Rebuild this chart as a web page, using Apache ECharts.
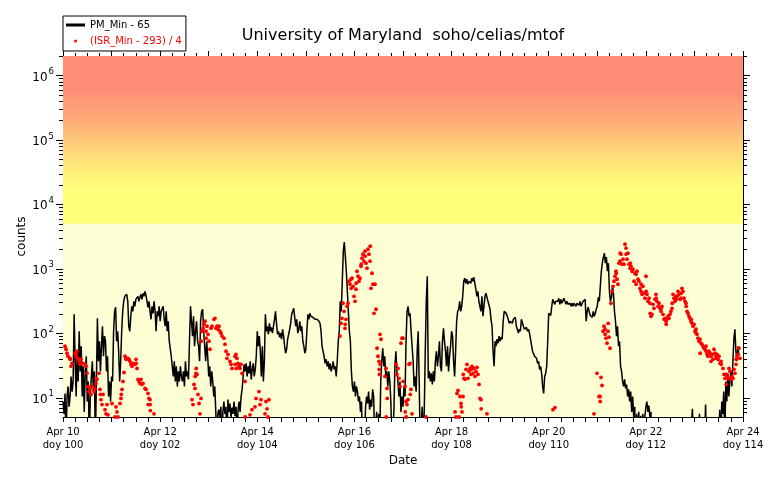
<!DOCTYPE html>
<html><head><meta charset="utf-8">
<script src="https://cdn.jsdelivr.net/npm/echarts@6.0.0/dist/echarts.min.js"></script>
<style>html,body{margin:0;padding:0;background:#fff}#c{width:776px;height:480px}</style>
</head><body><div id="c"></div>
<script>
// ---- data ----
const titleText = 'University of Maryland  soho/celias/mtof';
const pmName = 'PM_Min - 65';
const isrName = '(ISR_Min - 293) / 4';
const pmStartDoy = 100;          // Apr 10
const pmStepDays = 1 / 48;       // 30-minute cadence
const pmValues = [
8.7,5.6,11.6,2,10.4,14.9,7.2,10.4,21.3,12.4,17.8,196,36.6,10.4,52.4,17.8,107,25.5,62.7,10.4,30.6,6,25.5,43.8,8.7,17.8,2,10.4,21.3,36.6,12.4,25.5,2,17.8,170,36.6,75,25.5,62.7,128,43.8,90,
75,25.5,43.8,10.4,17.8,8.7,21.3,17.8,107,218,252,75,107,52.4,17.8,36.6,107,218,312,373,387,401,312,128,107,183,261,218,312,261,335,312,373,312,360,401,335,416,373,446,387,312,252,312,218,164,261,203,312,218,107,218,183,261,153,218,203,261,164,128,218,107,153,75,75,43.8,30.6,21.3,36.6,17.8,30.6,14.9,25.5,17.8,30.6,21.3,17.8,25.5,14.9,36.6,21.3,25.5,19.2,
75,261,153,90,183,62.7,107,153,75,62.7,36.6,153,218,235,107,62.7,36.6,75,43.8,21.3,30.6,14.9,25.5,17.8,10.4,14.9,6,2,5.6,6.5,5,7.2,2,6,8.7,5.6,7.2,2,9.3,6,8.1,5,7,5.6,8.7,5.2,7.2,2,6.5,8.7,6,10.4,13.4,21.3,32.8,25.5,34,21.3,30.6,23.8,36.6,19.2,27.4,34,21.3,27.4,43.8,107,62.7,90,52.4,21.3,62.7,17.8,36.6,196,107,128,96,142,107,123,100,
107,164,218,142,96,107,86.5,100,80.5,115,90,62.7,48.8,56.3,80.5,96,115,142,196,218,243,176,128,164,100,115,153,107,128,75,62.7,48.8,56.3,107,196,164,203,183,196,176,189,164,176,164,170,153,142,107,62.7,52.4,43.8,34,39.3,30.6,36.6,27.4,34,25.5,29.5,36.6,27.4,30.6,21.3,36.6,75,107,312,218,639,1872,2585,1565,914,446,218,107,75,25.5,14.9,12.4,17.8,10.4,14.9,
12.4,8.7,10.4,6,8.7,2,2,2,7.2,10.4,8.1,12.4,6.5,9.3,7.2,13.4,10.4,2,2,6,2,5.6,2,17.8,36.6,58.3,30.6,43.8,21.3,25.5,14.9,25.5,17.8,8.7,2,2,6,30.6,52.4,25.5,17.8,10.4,17.8,6,10.4,7.2,14.9,10.4,75,218,261,183,203,107,62.7,36.6,14.9,21.3,12.4,52.4,107,17.8,2,2,7.2,2,6,52.4,312,764,19.9,25.5,17.8,23.8,16,25.5,17.8,36.6,52.4,30.6,43.8,75,30.6,
25.5,75,119,75,52.4,30.6,62.7,25.5,43.8,62.7,107,90,36.6,21.3,52.4,153,218,235,312,218,261,373,639,711,595,686,574,639,662,595,711,639,737,595,480,373,446,312,335,218,373,183,261,373,416,360,312,335,235,164,128,52.4,30.6,75,62.7,80.5,69.8,90,75,86.5,80.5,153,218,203,203,183,164,142,153,164,142,164,153,176,128,115,100,115,107,164,164,128,115,
115,123,107,115,100,80.5,75,52.4,48.8,43.8,47,40.7,34,36.6,27.4,30.6,23.8,14.9,11.6,21.3,23.8,30.6,75,203,218,189,261,335,312,280,312,291,312,348,280,335,291,312,348,312,280,312,280,261,291,261,291,261,291,312,261,291,312,271,312,261,271,312,291,335,153,218,252,218,189,203,176,218,183,203,235,261,360,312,534,914,1218,1510,1743,1218,1510,914,1218,
446,312,360,534,416,218,153,90,128,62.7,75,30.6,25.5,17.8,14.9,19.2,13.9,16,10.4,13.4,8.7,12.4,6,10.4,5,7.2,2,5.6,2,6,2,5.2,2,5.6,2,5,7.2,8.7,6,7.5,5,6,2,
2,2,2,2,2,2,2,2,2,2,2,2,2,2,2,2,2,2,2,2,2,2,2,2,2,2,2,2,2,2,2,2,2,2,2,2,2,2,2,
6.7,2,2,2,2,2,2,5.6,2,2,2,2,2,7.8,2,2,2,2,2,2,2,2,2,2,2,2,2,6.5,2,8.7,5.6,12.4,2,17.8,8.7,23.8,10.4,17.8,25.5,14.9,36.6,83.5,115,52.4,36.6,62.7,43.8
];
const isrPoints = [
[100.041,62.7],[100.062,56.3],[100.082,48.8],[100.103,43.8],[100.144,40.7],[100.150,39.3],[100.165,30.6],[100.185,34],[100.247,48.8],[100.268,47],
[100.272,43.8],[100.288,52.4],[100.309,40.7],[100.329,36.6],[100.350,32.8],[100.371,39.3],[100.412,34],[100.453,32.8],[100.474,30.6],[100.494,23.8],
[100.515,14.9],[100.535,12.4],[100.556,13.9],[100.576,11.2],[100.597,14.9],[100.638,12.4],[100.659,13.9],[100.679,16.6],[100.685,19.9],[100.700,19.2],
[100.741,23.8],[100.762,13.4],[100.768,11.2],[100.782,9.3],[100.803,7.8],[100.824,11.2],[100.865,6.5],[100.885,5.6],[100.906,7.8],[100.926,5.4],
[101.009,8.1],[101.071,5],[101.091,7.2],[101.112,6],[101.132,5],[101.174,8.1],[101.194,9.7],[101.200,11.2],[101.215,13.4],[101.235,17.8],
[101.256,24.6],[101.276,43.8],[101.297,40.7],[101.300,39.3],[101.338,40.7],[101.359,39.3],[101.379,36.6],[101.400,32.8],[101.421,30.6],[101.441,34],
[101.482,32.8],[101.503,39.3],[101.507,34],[101.524,28.4],[101.544,19.2],[101.565,17.8],[101.585,16.6],[101.606,19.2],[101.626,16],[101.647,16.6],
[101.688,13.9],[101.709,13.4],[101.750,11.6],[101.771,9.7],[101.791,9.3],[101.755,7.8],[101.795,7.8],[101.800,6.3],[101.874,5.6],
[102.656,9.3],[102.676,7.8],[102.697,16],[102.718,13.9],[102.722,21.3],[102.738,23.8],[102.742,28.4],[102.759,22.9],[102.779,11.2],[102.800,8.1],
[102.821,5.6],[102.841,9.7],[102.845,75],[102.862,107],[102.882,119],[102.903,137],[102.924,153],[102.944,107],[102.948,83.5],[102.965,128],
[102.985,96],[103.006,75],[103.026,56.3],[103.047,119],[103.068,128],[103.109,164],[103.129,170],[103.150,119],[103.171,128],[103.191,115],
[103.212,128],[103.232,107],[103.253,100],[103.274,90],[103.315,83.5],[103.335,67.3],[103.356,52.4],[103.376,40.7],[103.397,47],[103.438,36.6],
[103.459,32.8],[103.479,28.4],[103.541,43.8],[103.562,47],[103.582,40.7],[103.603,34],[103.545,32.8],[103.566,28.4],[103.624,30.6],[103.644,28.4],
[103.665,32.8],[103.685,23.8],[103.747,17.8],[103.750,5],[103.850,5.4],[103.891,6.5],[103.953,7.2],[103.974,9.7],[104.015,4.8],[104.035,12.4],
[104.056,7.8],[104.076,9.3],[104.159,5.6],[104.179,8.7],[104.200,6.7],[104.221,5],[104.241,9.3],
[105.703,90],[105.724,142],[105.744,170],[105.765,291],[105.785,218],[105.806,119],[105.810,137],[105.826,164],[105.847,261],[105.868,291],
[105.888,639],[105.909,574],[105.929,686],[105.933,497],[105.950,711],[105.971,534],[105.991,373],[106.012,312],[106.032,480],[106.036,595],
[106.053,914],[106.074,764],[106.094,639],[106.115,711],[106.135,1093],[106.140,1175],[106.156,1457],[106.176,1681],[106.197,1308],[106.218,1872],
[106.222,1565],[106.238,1218],[106.259,1018],[106.279,2011],[106.300,1681],[106.321,1308],[106.325,2240],[106.341,497],[106.362,851],[106.382,574],
[106.403,203],[106.444,235],[106.424,574],[106.465,58.3],[106.485,43.8],[106.506,36.6],[106.527,96],[106.547,80.5],[106.530,32.8],[106.510,27.4],
[106.515,22.9],[106.629,21.3],[106.650,28.4],[106.671,13.9],[106.675,9.7],[106.655,5],[106.856,32.8],[106.897,28.4],[106.876,22.9],[106.918,19.9],
[106.938,14.9],[106.959,69.8],[106.979,83.5],[107.000,83.5],[107.003,17.8],[107.041,14.9],[107.062,8.7],[107.082,7.8],[107.103,9.3],[107.124,32.8],
[107.144,34],[107.165,13.4],[107.148,11.2],[107.185,5.6],[107.045,6],[107.065,5],[107.474,5],
[108.071,6],[108.091,5],[108.112,11.6],[108.132,12.9],[108.174,10.4],[108.194,8.1],[108.198,7.2],[108.215,6],[108.153,5],[108.235,10.4],
[108.240,22.9],[108.256,19.9],[108.276,19.2],[108.297,27.4],[108.318,32.8],[108.338,19.9],[108.359,25.5],[108.379,28.4],[108.400,22.9],[108.404,27.4],
[108.421,30.6],[108.441,23.8],[108.462,28.4],[108.482,21.3],[108.503,25.5],[108.524,29.5],[108.544,22.9],[108.565,16],[108.585,9.7],[108.606,9.3],
[108.610,6.7],[108.729,5.6],
[110.026,4.8],[110.088,6.5],[110.129,7],
[110.829,4.8],[110.932,5.6],[110.994,23.8],[111.035,10.4],[111.056,10.4],[111.060,8.7],[111.076,20.6],[111.097,15.4],
[111.118,107],[111.138,128],[111.159,115],[111.163,96],[111.179,83.5],[111.200,69.8],[111.221,107],[111.241,86.5],[111.225,142],[111.262,58.3],
[111.282,291],[111.303,446],[111.324,534],[111.344,639],[111.365,764],[111.385,914],[111.390,851],[111.406,686],[111.426,574],[111.447,1218],
[111.468,1308],[111.472,1743],[111.488,1681],[111.509,1175],[111.529,1405],[111.550,1175],[111.571,2406],[111.591,2085],[111.595,1681],[111.612,1405],
[111.632,1743],[111.653,1175],[111.674,1018],[111.678,1218],[111.694,1093],[111.715,914],[111.735,982],[111.756,639],[111.776,851],[111.797,821],
[111.800,574],[111.818,914],[111.838,686],[111.859,639],[111.879,497],[111.900,446],[111.904,574],[111.921,401],[111.941,534],[111.962,416],
[111.982,348],[112.003,764],[112.007,446],[112.024,401],[112.044,312],[112.065,348],[112.085,291],[112.090,203],[112.106,183],[112.126,196],
[112.147,280],[112.168,243],[112.188,335],[112.209,401],[112.213,348],[112.229,312],[112.250,261],[112.271,291],[112.291,243],[112.312,218],
[112.316,243],[112.332,261],[112.353,196],[112.374,164],[112.394,170],[112.415,153],[112.419,137],[112.435,164],[112.456,183],[112.476,170],
[112.497,196],[112.518,218],[112.538,243],[112.542,291],[112.559,401],[112.579,348],[112.600,312],[112.621,373],[112.625,335],[112.641,373],
[112.662,446],[112.682,401],[112.703,335],[112.724,348],[112.728,416],[112.744,497],[112.765,446],[112.785,348],[112.806,312],[112.826,291],
[112.830,261],[112.847,218],[112.868,203],[112.888,183],[112.909,170],[112.929,153],[112.933,164],[112.950,142],[112.971,128],[112.991,137],
[113.012,107],[113.032,115],[113.036,100],[113.053,96],[113.074,83.5],[113.094,75],[113.115,80.5],[113.119,48.8],[113.135,69.8],[113.156,67.3],
[113.176,62.7],[113.197,58.3],[113.218,56.3],[113.238,62.7],[113.242,52.4],[113.259,47],[113.279,43.8],[113.300,52.4],[113.321,48.8],[113.341,36.6],
[113.345,43.8],[113.362,47],[113.382,39.3],[113.403,56.3],[113.424,48.8],[113.444,43.8],[113.448,40.7],[113.465,47],[113.485,39.3],[113.506,43.8],
[113.526,34],[113.547,36.6],[113.551,32.8],[113.588,28.4],[113.609,22.9],[113.629,19.9],[113.650,22.9],[113.654,16],[113.671,21.3],[113.691,19.9],
[113.712,28.4],[113.732,25.5],[113.736,19.9],[113.753,19.2],[113.774,21.3],[113.794,19.9],[113.815,27.4],[113.835,23.8],[113.856,32.8],[113.860,39.3],
[113.876,43.8],[113.897,47],[113.918,58.3],[113.938,40.7]
];
const xMinDoy = 100, xMaxDoy = 114;
const yMin = 5, yMax = 2e6;
const quietLevel = 5000;              // boundary of pale band
const yMajorTicks = [10, 100, 1000, 1e4, 1e5, 1e6];
const yMinorMult = [2, 3, 4, 5, 6, 7, 8, 9];

// ---- build ----
const FONT = 'DejaVu Sans';
const pmData = pmValues.map((v, k) => [pmStartDoy + k * pmStepDays, v]);
const tickData = [];
yMajorTicks.forEach(v => tickData.push([xMinDoy, v, 1]));
[1, 10, 100, 1000, 1e4, 1e5, 1e6].forEach(d => yMinorMult.forEach(m => {
  const v = d * m; if (v > yMin && v <= yMax) tickData.push([xMinDoy, v, 0]);
}));

const chart = echarts.init(document.getElementById('c'), null, {renderer: 'canvas'});
const hotGradient = new echarts.graphic.LinearGradient(0, 0, 0, 1, [
  {offset: 0, color: '#FF8C78'},
  {offset: 0.2, color: '#FF8D77'},
  {offset: 0.4, color: '#FFAE77'},
  {offset: 0.55, color: '#FFD479'},
  {offset: 0.7, color: '#FFF079'},
  {offset: 0.8, color: '#FFFF79'},
  {offset: 1, color: '#FFFF79'}
]);
chart.setOption({
  animation: false,
  backgroundColor: '#fff',
  textStyle: {fontFamily: FONT},
  title: {
    text: titleText, left: 398, top: 23, textAlign: 'center',
    textStyle: {fontFamily: FONT, fontSize: 16, fontWeight: 'normal', color: '#000'}
  },
  legend: {
    left: 63, top: 16, orient: 'vertical',
    padding: [2, 4, 3, 3], itemGap: 2, itemWidth: 19, itemHeight: 3,
    borderColor: '#000', borderWidth: 1, backgroundColor: '#fff',
    textStyle: {fontFamily: FONT, fontSize: 10, lineHeight: 14},
    selectedMode: false,
    data: [
      {name: pmName, icon: 'rect', itemStyle: {color: '#000'}, textStyle: {color: '#000'}},
      {name: isrName, icon: 'circle', textStyle: {color: '#ff0000'}}
    ]
  },
  grid: {left: 63, right: 33, top: 56, bottom: 63},
  xAxis: [{
    type: 'value', min: xMinDoy, max: xMaxDoy, interval: 0.25,
    name: 'Date', nameLocation: 'middle', nameGap: 38, nameMoveOverlap: false,
    nameTextStyle: {fontFamily: FONT, fontSize: 12, color: '#000'},
    axisLine: {show: true, lineStyle: {color: '#000', width: 1}},
    axisTick: {show: true, length: 5, lineStyle: {color: '#000'}},
    splitLine: {show: false},
    axisLabel: {
      fontFamily: FONT, fontSize: 10, color: '#000', lineHeight: 13, margin: 9,
      formatter: v => {
        const r = Math.round(v);
        if (Math.abs(v - r) > 1e-6 || r % 2 !== 0) return '';
        return 'Apr ' + (r - 90) + '\ndoy ' + r;
      }
    }
  }, {
    type: 'value', position: 'top', min: xMinDoy, max: xMaxDoy, interval: 1,
    axisLine: {show: true, onZero: false, lineStyle: {color: '#000', width: 1}},
    axisTick: {show: true, length: 5, lineStyle: {color: '#000'}},
    minorTick: {show: true, splitNumber: 4, length: 3, lineStyle: {color: '#000'}},
    axisLabel: {show: false}, splitLine: {show: false}
  }],
  yAxis: [{
    type: 'log', logBase: 10, min: yMin, max: yMax,
    name: 'counts', nameLocation: 'middle', nameGap: 35, nameMoveOverlap: false,
    nameTextStyle: {fontFamily: FONT, fontSize: 12, color: '#000'},
    axisLine: {show: true, lineStyle: {color: '#000', width: 1}},
    axisTick: {show: false}, splitLine: {show: false}, minorTick: {show: false},
    axisLabel: {
      margin: 9, color: '#000',
      formatter: v => {
        const e = Math.round(Math.log10(v));
        if (Math.abs(Math.pow(10, e) - v) / v > 1e-6) return '';
        return '{b|10}{s|' + e + '}';
      },
      rich: {
        b: {fontFamily: FONT, fontSize: 12, color: '#000', lineHeight: 16, verticalAlign: 'bottom'},
        s: {fontFamily: FONT, fontSize: 8.5, color: '#000', lineHeight: 16, verticalAlign: 'top', padding: [0, 0, 0, 1]}
      }
    }
  }, {
    type: 'log', logBase: 10, min: yMin, max: yMax, position: 'right',
    axisLine: {show: true, onZero: false, lineStyle: {color: '#000', width: 1}},
    axisTick: {show: false}, axisLabel: {show: false}, splitLine: {show: false}
  }],
  series: [{
    name: 'bands', type: 'line', data: [], z: 1, silent: true,
    markArea: {
      silent: true,
      data: [
        [{xAxis: xMinDoy, yAxis: yMin, itemStyle: {color: '#FEFED5'}}, {xAxis: xMaxDoy, yAxis: quietLevel}],
        [{xAxis: xMinDoy, yAxis: quietLevel, itemStyle: {color: hotGradient}}, {xAxis: xMaxDoy, yAxis: yMax}]
      ]
    }
  }, {
    name: pmName, type: 'line', data: pmData, z: 3,
    symbol: 'none', showSymbol: false, sampling: null,
    lineStyle: {color: '#000', width: 1.5}, itemStyle: {color: '#000'},
    clip: true
  }, {
    name: isrName, type: 'scatter', data: isrPoints, z: 4,
    symbol: 'circle', symbolSize: 3.8, itemStyle: {color: '#ff0000', opacity: 1},
    clip: true
  }, {
    name: 'yticks', type: 'custom', data: tickData, z: 10, silent: true,
    encode: {x: 0, y: 1},
    renderItem: function (params, api) {
      const v = api.value(1), major = api.value(2);
      const p = api.coord([xMinDoy, v]);
      const cs = params.coordSys;
      const y = Math.round(p[1]) + 0.5;
      const len = major ? 7 : 4;
      const st = {stroke: '#000', lineWidth: 1};
      return {type: 'group', children: [
        {type: 'line', shape: {x1: cs.x - len, y1: y, x2: cs.x, y2: y}, style: st},
        {type: 'line', shape: {x1: cs.x + cs.width, y1: y, x2: cs.x + cs.width + len, y2: y}, style: st}
      ]};
    }
  }]
});
</script>
</body></html>
